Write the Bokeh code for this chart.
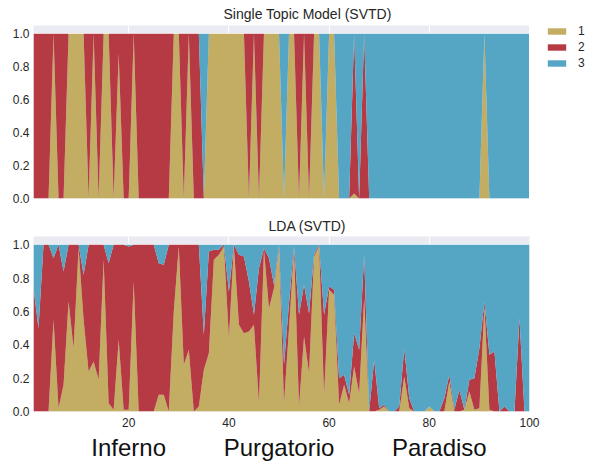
from bokeh.plotting import figure
from bokeh.layouts import column, row
from bokeh.models import (ColumnDataSource, Range1d, FixedTicker, NumeralTickFormatter,
                          LinearAxis, Legend, LegendItem)
from bokeh.embed import file_html
from bokeh.resources import INLINE

# ---------------- data ----------------
cantos = list(range(1, 101))
topic_labels = ["1", "2", "3"]
topic_colors = ["#C2AD62", "#B53A44", "#55A6C4"]
y_ticks = [0.0, 0.2, 0.4, 0.6, 0.8, 1.0]
region_labels = ["Inferno", "Purgatorio", "Paradiso"]
region_centers = [20, 50, 82]

# Single topic model: share of each topic per canto
single_topic1 = [0, 0, 0, 0, 1, 0, 0, 1, 1, 1,
                 1, 0, 1, 0, 1, 1, 0, 0.88, 0, 0,
                 1, 0, 0, 0, 0, 0, 0, 0, 1, 1,
                 0, 1, 0, 0, 0, 1, 1, 1, 1, 1,
                 1, 1, 1, 0, 1, 0, 1, 1, 1, 1,
                 0, 1, 1, 0, 1, 0, 1, 1, 0, 1,
                 1, 0, 0, 0, 0.03, 0, 0, 0, 0, 0,
                 0, 0, 0, 0, 0, 0, 0, 0, 0, 0,
                 0, 0, 0, 0, 0, 0, 0, 0, 0, 0,
                 1, 0, 0, 0, 0, 0, 0, 0, 0, 0]
single_topic2 = [1, 1, 1, 1, 0, 1, 1, 0, 0, 0,
                 0, 1, 0, 1, 0, 0, 1, 0.12, 1, 1,
                 0, 1, 1, 1, 1, 1, 1, 1, 0, 0,
                 1, 0, 1, 1, 0, 0, 0, 0, 0, 0,
                 0, 0, 0, 1, 0, 1, 0, 0, 0, 0,
                 0, 0, 0, 1, 0, 1, 0, 0, 0, 0,
                 0, 0, 0, 0, 0.97, 0, 1, 0, 0, 0,
                 0, 0, 0, 0, 0, 0, 0, 0, 0, 0,
                 0, 0, 0, 0, 0, 0, 0, 0, 0, 0,
                 0, 0, 0, 0, 0, 0, 0, 0, 0, 0]
single_topic3 = [0, 0, 0, 0, 0, 0, 0, 0, 0, 0,
                 0, 0, 0, 0, 0, 0, 0, 0, 0, 0,
                 0, 0, 0, 0, 0, 0, 0, 0, 0, 0,
                 0, 0, 0, 0, 1, 0, 0, 0, 0, 0,
                 0, 0, 0, 0, 0, 0, 0, 0, 0, 0,
                 1, 0, 0, 0, 0, 0, 0, 0, 1, 0,
                 0, 1, 1, 1, 0, 1, 0, 1, 1, 1,
                 1, 1, 1, 1, 1, 1, 1, 1, 1, 1,
                 1, 1, 1, 1, 1, 1, 1, 1, 1, 1,
                 0, 1, 1, 1, 1, 1, 1, 1, 1, 1]

# LDA: topic proportions per canto
lda_topic1 = [0.00, 0.00, 0.00, 0.00, 0.55, 0.02, 0.16, 0.66, 0.38, 0.98,
              0.55, 0.24, 0.30, 0.19, 0.91, 0.05, 0.01, 0.43, 0.01, 0.01,
              0.78, 0.00, 0.00, 0.00, 0.00, 0.10, 0.10, 0.00, 0.60, 0.99,
              0.28, 0.37, 0.00, 0.03, 0.25, 0.35, 0.91, 0.94, 0.99, 0.44,
              0.99, 0.52, 0.47, 0.48, 0.52, 0.05, 0.97, 0.62, 0.74, 0.98,
              0.05, 0.50, 0.97, 0.03, 0.45, 0.23, 0.93, 0.99, 0.10, 0.73,
              0.70, 0.04, 0.16, 0.05, 0.27, 0.11, 0.68, 0.00, 0.00, 0.01,
              0.03, 0.00, 0.00, 0.00, 0.21, 0.02, 0.00, 0.00, 0.00, 0.03,
              0.00, 0.00, 0.00, 0.18, 0.00, 0.00, 0.01, 0.12, 0.01, 0.02,
              0.63, 0.01, 0.00, 0.00, 0.00, 0.00, 0.00, 0.00, 0.00, 0.00]
lda_topic2 = [0.74, 0.50, 1.00, 1.00, 0.37, 0.98, 0.68, 0.34, 0.62, 0.02,
              0.27, 0.76, 0.70, 0.81, 0.09, 0.84, 0.99, 0.57, 0.99, 0.98,
              0.22, 1.00, 1.00, 1.00, 1.00, 0.79, 0.78, 1.00, 0.40, 0.01,
              0.72, 0.63, 1.00, 0.97, 0.21, 0.61, 0.06, 0.03, 0.01, 0.28,
              0.01, 0.42, 0.46, 0.30, 0.06, 0.81, 0.01, 0.30, 0.02, 0.02,
              0.23, 0.15, 0.02, 0.55, 0.31, 0.36, 0.01, 0.01, 0.48, 0.02,
              0.03, 0.16, 0.06, 0.05, 0.20, 0.26, 0.26, 0.00, 0.31, 0.01,
              0.01, 0.00, 0.00, 0.03, 0.17, 0.06, 0.00, 0.00, 0.00, 0.00,
              0.00, 0.00, 0.08, 0.04, 0.01, 0.13, 0.00, 0.07, 0.19, 0.36,
              0.03, 0.33, 0.36, 0.00, 0.03, 0.00, 0.00, 0.56, 0.00, 0.00]
lda_topic3 = [0.26, 0.50, 0.00, 0.00, 0.08, 0.00, 0.16, 0.00, 0.00, 0.00,
              0.18, 0.00, 0.00, 0.00, 0.00, 0.11, 0.00, 0.00, 0.00, 0.01,
              0.00, 0.00, 0.00, 0.00, 0.00, 0.11, 0.12, 0.00, 0.00, 0.00,
              0.00, 0.00, 0.00, 0.00, 0.54, 0.04, 0.03, 0.03, 0.00, 0.28,
              0.00, 0.06, 0.07, 0.22, 0.42, 0.14, 0.02, 0.08, 0.24, 0.00,
              0.72, 0.35, 0.01, 0.42, 0.24, 0.41, 0.06, 0.00, 0.42, 0.25,
              0.27, 0.80, 0.78, 0.90, 0.53, 0.63, 0.06, 1.00, 0.69, 0.98,
              0.96, 1.00, 1.00, 0.97, 0.62, 0.92, 1.00, 1.00, 1.00, 0.97,
              1.00, 1.00, 0.92, 0.78, 0.99, 0.87, 0.99, 0.81, 0.80, 0.62,
              0.34, 0.66, 0.64, 1.00, 0.97, 1.00, 1.00, 0.44, 1.00, 1.00]

src_single = ColumnDataSource(dict(canto=cantos, t1=single_topic1, t2=single_topic2, t3=single_topic3))
src_lda = ColumnDataSource(dict(canto=cantos, t1=lda_topic1, t2=lda_topic2, t3=lda_topic3))

FONT = "Liberation Sans"
TXT = "#262626"
BG = "#EAEAF2"


def style_axis(ax):
    ax.axis_line_color = None
    ax.major_tick_line_color = None
    ax.minor_tick_line_color = None
    ax.major_tick_out = 0
    ax.major_tick_in = 0
    ax.minor_tick_out = 0
    ax.minor_tick_in = 0
    ax.major_label_text_font = FONT
    ax.major_label_text_font_size = "12px"
    ax.major_label_text_color = TXT


def style(p):
    p.background_fill_color = BG
    p.border_fill_color = "white"
    p.outline_line_color = None
    p.xgrid.grid_line_color = "white"
    p.xgrid.grid_line_width = 1
    p.ygrid.grid_line_color = "white"
    p.ygrid.ticker = FixedTicker(ticks=y_ticks)
    p.yaxis.ticker = FixedTicker(ticks=y_ticks)
    p.yaxis.formatter = NumeralTickFormatter(format="0.0")
    for ax in p.axis:
        style_axis(ax)
    p.yaxis.major_label_standoff = 4
    p.title.text_font = FONT
    p.title.text_font_size = "14px"
    p.title.text_font_style = "normal"
    p.title.text_color = TXT
    p.title.align = "left"


x_rng = Range1d(1, 100)

# ---------------- top figure ----------------
p1 = figure(width=529, height=205, x_range=x_rng, y_range=Range1d(0, 1.05),
            output_backend="svg", toolbar_location=None,
            min_border_left=33, min_border_right=0, min_border_top=24, min_border_bottom=7,
            title="Single Topic Model  (SVTD)")
p1.varea_stack(["t1", "t2", "t3"], x="canto", color=topic_colors, source=src_single)
style(p1)
p1.xaxis.visible = False
p1.title.offset = 190
p1.title.standoff = 7

# ---------------- legend panel ----------------
p3 = figure(width=62, height=205, x_range=Range1d(0, 1), y_range=Range1d(0, 1),
            output_backend="svg", toolbar_location=None,
            x_axis_location=None, y_axis_location=None,
            min_border_left=0, min_border_right=0, min_border_top=0, min_border_bottom=0)
p3.outline_line_color = None
p3.background_fill_color = "white"
p3.xgrid.visible = False
p3.ygrid.visible = False
nan = float("nan")
legend_renderers = [p3.varea(x=[nan], y1=[nan], y2=[nan], color=c) for c in topic_colors]
legend = Legend(items=[LegendItem(label=lab, renderers=[r]) for lab, r in zip(topic_labels, legend_renderers)],
                location=(16, 127), margin=0, padding=0, spacing=0,
                glyph_width=23, glyph_height=8, label_height=16, label_standoff=10,
                border_line_color=None, background_fill_alpha=0,
                label_text_font=FONT, label_text_font_size="12px", label_text_color=TXT)
p3.add_layout(legend, "center")

# ---------------- bottom figure ----------------
p2 = figure(width=591, height=259, x_range=x_rng, y_range=Range1d(0, 1.05),
            output_backend="svg", toolbar_location=None,
            min_border_left=33, min_border_right=62, min_border_top=31, min_border_bottom=53,
            title="LDA  (SVTD)")
p2.varea_stack(["t1", "t2", "t3"], x="canto", color=topic_colors, source=src_lda)

region_axis = LinearAxis(ticker=FixedTicker(ticks=region_centers),
                         major_label_overrides={c: lab for c, lab in zip(region_centers, region_labels)})
p2.add_layout(region_axis, "below")
style(p2)
p2.xaxis[0].major_label_standoff = 6
region_axis.major_label_standoff = 4
region_axis.major_label_text_font_size = "24px"
region_axis.major_label_text_color = "#111111"
p2.title.offset = 235
p2.title.standoff = 6

layout = column(row(p1, p3, spacing=0), p2, spacing=0)

open("out.html", "w").write(file_html(layout, INLINE))
